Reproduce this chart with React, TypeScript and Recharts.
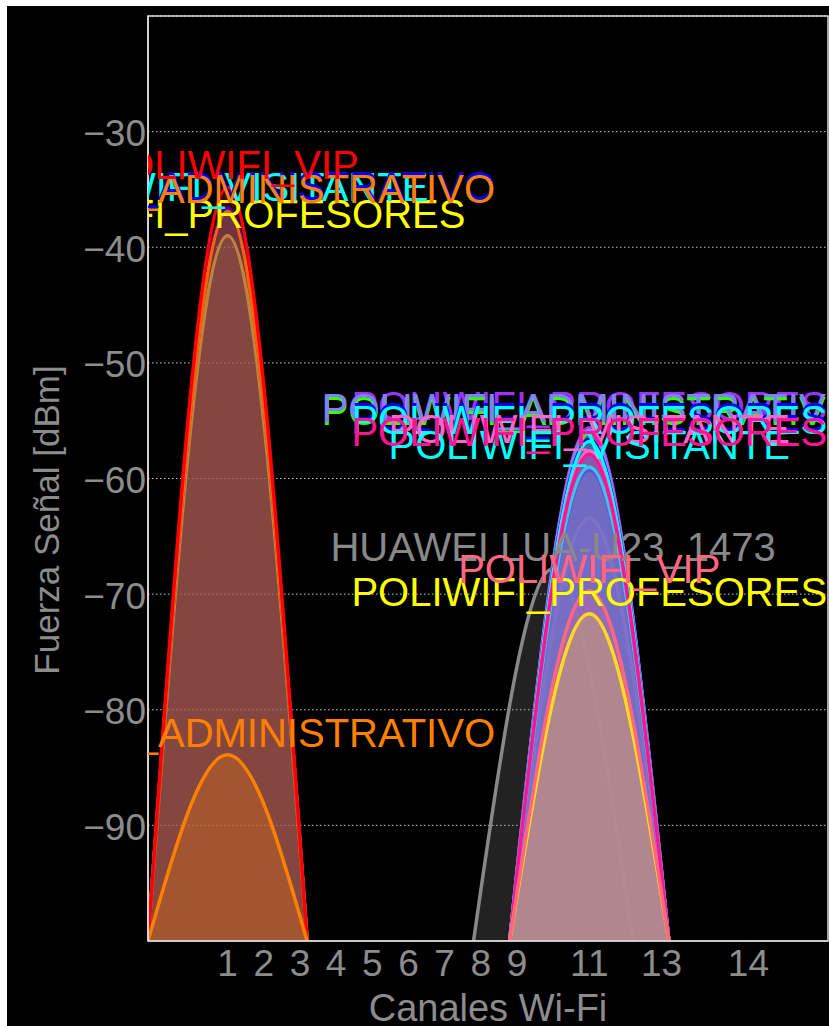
import React from 'react'
import {
  ComposedChart, Area, XAxis, YAxis, CartesianGrid, ReferenceArea,
} from 'recharts'

// channel -> centre frequency (MHz)
const CHANNEL_FREQ: Record<number, number> = {
  1: 2412, 2: 2417, 3: 2422, 4: 2427, 5: 2432, 6: 2437, 7: 2442,
  8: 2447, 9: 2452, 10: 2457, 11: 2462, 12: 2467, 13: 2472, 14: 2484,
}
const X_TICK_CHANNELS = [1, 2, 3, 4, 5, 6, 7, 8, 9, 11, 13, 14]
const Y_TICKS = [-90, -80, -70, -60, -50, -40, -30]
const HALF_WIDTH = 11 // MHz, 22 MHz channel
const FLOOR = -100

// networks, in drawing order ('' = label not visible)
const NET_NAMES = [
  'POLIWIFI_PROFESORES', 'POLIWIFI_VISITANTE', 'POLIWIFI_ADMINISTRATIVO', 'POLIWIFI_ADMINISTRATIVO',
  'POLIWIFI_VIP', 'POLIWIFI_ADMINISTRATIVO',
  'HUAWEI LUA-U23_1473', '', '', 'POLIWIFI_PROFESORES', 'POLIWIFI_ADMINISTRATIVO',
  'POLIWIFI_ADMINISTRATIVO', 'POLIWIFI_PROFESORES', 'POLIWIFI_PROFESORES', 'POLIWIFI_VISITANTE',
  '', 'POLIWIFI_VISITANTE', 'POLIWIFI_PROFESORES', 'POLIWIFI_PROFESORES', 'POLIWIFI_VIP',
]
const NET_CHANNELS = [1, 1, 1, 1, 1, 1, 10, 11, 11, 11, 11, 11, 11, 11, 11, 11, 11, 11, 11, 11]
const NET_PEAKS = [
  -39.0, -36.7, -36.6, -36.9, -34.8, -83.9,
  -67.8, -63.4, -55.6, -55.6, -56.1, -55.8, -56.6, -56.8, -57.6, -59.3, -59.0, -57.9, -71.7, -69.7,
]
const NET_COLORS = [
  '#FFFF00', '#00FFFF', '#0000FF', '#FF8000', '#FF0000', '#FF8000',
  '#888888', '#FF8C69', '#FF0000', '#9933FF', '#33FF00', '#8080FF', '#0000FF', '#00FFFF', '#FF66CC',
  '#3333FF', '#00FFFF', '#FF1493', '#FFFF00', '#FF6680',
]

const W = 822
const H = 1020
const PLOT = { left: 141, top: 10, width: 680, height: 925 }
const FONT = '"Liberation Sans", Arial, sans-serif'
const GREY = '#8c8c8c'

const fmtNeg = (v: number) => String(v).replace('-', '\u2212')

function YTick({ y, payload }: any) {
  return (
    <text x={PLOT.left - 2} y={y + 2} textAnchor="end" dominantBaseline="central"
      fill={GREY} fontSize={37} fontFamily={FONT}>
      {fmtNeg(payload.value)}
    </text>
  )
}

function XTick({ x, payload }: any) {
  const ch = X_TICK_CHANNELS.find(c => CHANNEL_FREQ[c] === payload.value)
  return (
    <text x={x} y={PLOT.top + PLOT.height + 22} textAnchor="middle" dominantBaseline="central"
      fill={GREY} fontSize={37} fontFamily={FONT}>
      {ch}
    </text>
  )
}

export default function App() {
  const series = NET_NAMES.map((name, i) => {
    const f = CHANNEL_FREQ[NET_CHANNELS[i]]
    return {
      name,
      color: NET_COLORS[i],
      data: [
        { f: f - HALF_WIDTH, v: FLOOR },
        { f, v: NET_PEAKS[i] },
        { f: f + HALF_WIDTH, v: FLOOR },
      ],
    }
  })

  return (
    <div style={{ position: 'relative' }}>
      <style>{'html,body{margin:0;overflow:hidden;background:#fff}'}</style>
      <div style={{ margin: '6px 0 0 7px', width: W, height: H, background: '#000' }}>
        <ComposedChart width={W} height={H} margin={{ top: 10, right: 1, bottom: 0, left: 0 }}
          style={{ fontFamily: FONT }}>
          <defs>
            <clipPath id="plot-clip">
              <rect x={PLOT.left} y={PLOT.top} width={PLOT.width} height={PLOT.height} />
            </clipPath>
          </defs>
          <CartesianGrid vertical={false} stroke="#c8c8c8" strokeDasharray="1.5 2.5" />
          <XAxis dataKey="f" type="number" domain={[2401, 2495]} allowDataOverflow
            ticks={X_TICK_CHANNELS.map(c => CHANNEL_FREQ[c])} interval={0}
            height={85} tickLine={false} axisLine={{ stroke: '#d0d0d0', strokeWidth: 1.5 }} tick={<XTick />} />
          <YAxis type="number" domain={[-100, -20]} allowDataOverflow ticks={Y_TICKS} interval={0}
            width={141} tickLine={false} axisLine={{ stroke: '#e0e0e0', strokeWidth: 1.5 }} tick={<YTick />} />
          {series.map((s, i) => (
            <Area
              key={i}
              data={s.data}
              dataKey="v"
              type="natural"
              baseValue={FLOOR}
              stroke={s.color}
              strokeWidth={3.5}
              fill={s.color}
              fillOpacity={0.25}
              dot={false}
              activeDot={false}
              isAnimationActive={false}
              label={(p: any) => p.index === 1 && s.name ? (
                <text key={`l${i}`} x={p.x} y={p.y - 8} textAnchor="middle" fill={s.color}
                  fontSize={40} fontFamily={FONT} clipPath="url(#plot-clip)">
                  {s.name}
                </text>
              ) : null}
            />
          ))}
          <ReferenceArea x1={2401} x2={2495} y1={-100} y2={-20} fill="none"
            stroke="#dddddd" strokeWidth={1.5} ifOverflow="visible" />
          <text x={PLOT.left + PLOT.width / 2} y={1002} textAnchor="middle" dominantBaseline="central"
            fill={GREY} fontSize={38} fontFamily={FONT}>Canales Wi-Fi</text>
          <text x={39} y={514} textAnchor="middle" dominantBaseline="central" transform="rotate(-90 39 514)"
            fill={GREY} fontSize={35} fontFamily={FONT}>Fuerza Señal [dBm]</text>
        </ComposedChart>
      </div>
    </div>
  )
}
